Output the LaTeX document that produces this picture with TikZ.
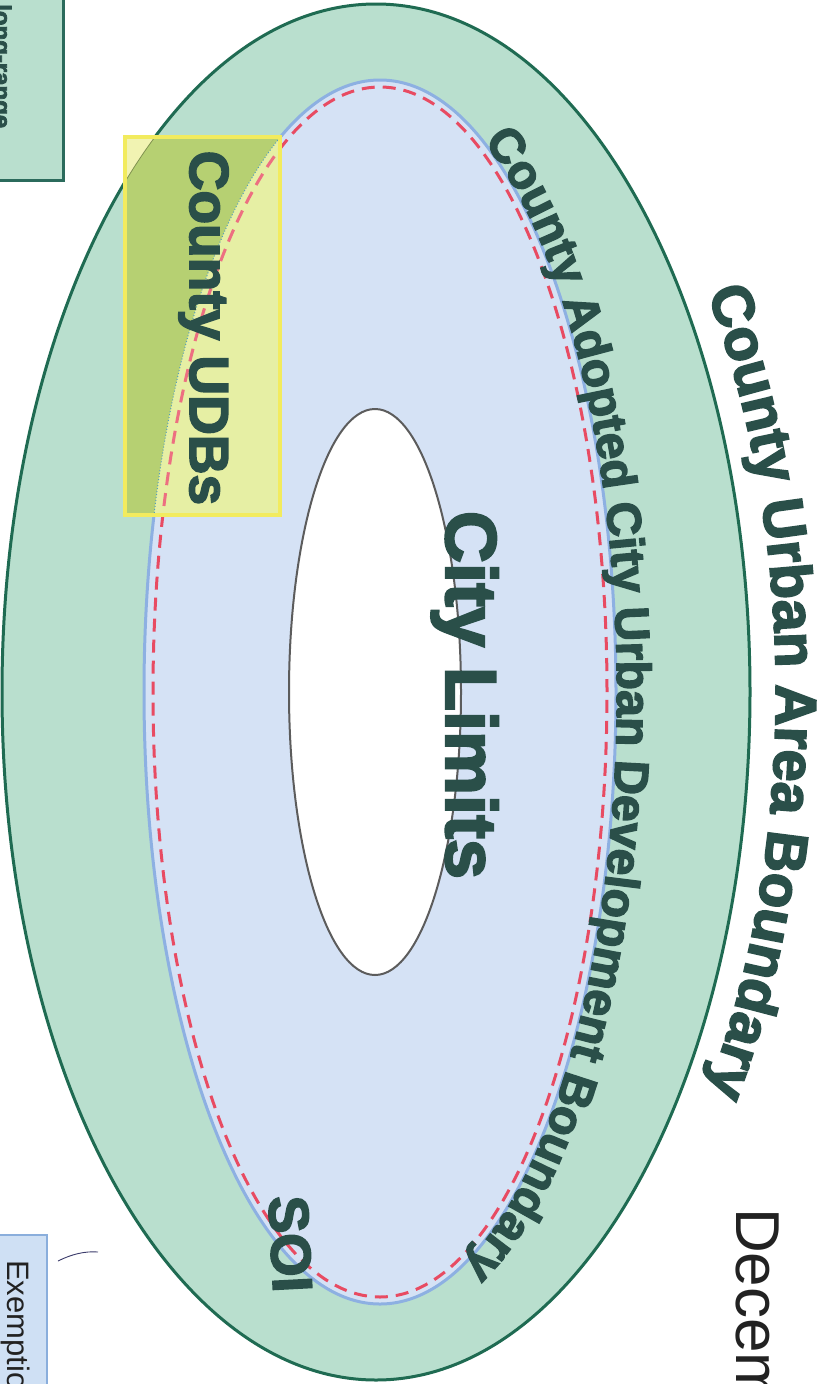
\documentclass[tikz,border=0pt]{standalone}
\usepackage{fontspec}
\setmainfont{Liberation Sans}
\newfontfamily\heavy{Liberation Sans}[BoldFeatures={FakeBold=3}]
\usetikzlibrary{decorations.text}
\definecolor{bandgreen}{HTML}{B9DFCE}
\definecolor{outerline}{HTML}{1F6B52}
\definecolor{soifill}{HTML}{D5E2F5}
\definecolor{soiline}{HTML}{8DB0E2}
\definecolor{reddash}{HTML}{E84B62}
\definecolor{innerline}{HTML}{5C5C5C}
\definecolor{headc}{HTML}{2A4F49}
\definecolor{olive}{HTML}{B6D072}
\definecolor{paleyel}{HTML}{E6EFA4}
\definecolor{outyel}{HTML}{F1F3B2}
\definecolor{boxyel}{HTML}{F2EB5E}
\definecolor{exfill}{HTML}{CFE0F4}
\definecolor{exline}{HTML}{8AAEDC}
\definecolor{lrline}{HTML}{2B6B5C}
\definecolor{penc}{HTML}{3A3A6A}
\definecolor{darktext}{HTML}{222222}
\begin{document}
\begin{tikzpicture}[x=1pt,y=1pt,
  head/.style={font=\heavy\bfseries\fontsize{#1}{#1}\selectfont, text=headc, inner sep=0pt},
  plaintext/.style={font=\fontsize{#1}{#1}\selectfont, text=darktext, inner sep=0pt},
  dashred/.style={draw=reddash, line width=3pt, dash pattern=on 13pt off 8pt}]
\useasboundingbox (0,0) rectangle (817,-1384);
\fill[white] (0,0) rectangle (817,-1384);

% partial side boxes
\draw[fill=bandgreen, draw=lrline, line width=3pt] (-10,10) rectangle (63,-180);
\node[head=24, rotate=-90, anchor=base west] (lr) at (-6,-4) {long-range};
\draw[fill=exfill, draw=exline, line width=2.5pt] (-10,-1235) rectangle (47,-1400);
\node[plaintext=31, rotate=-90, anchor=base west] (ex) at (8,-1260) {Exemption};
\draw[draw=penc, line width=0.9pt] (58,-1261) .. controls (72,-1254) and (85,-1251) .. (98,-1252);

% outer county urban area
\draw[fill=bandgreen, draw=outerline, line width=3pt] (376,-692) ellipse [x radius=374pt, y radius=688pt];
% SOI
\fill[soifill] (380,-692) ellipse [x radius=236pt, y radius=612pt];
\draw[soiline, line width=3pt] (380,-692) ellipse [x radius=236pt, y radius=612pt];
\draw[dashred] (380,-692) ellipse [x radius=227pt, y radius=605pt];
% city limits
\draw[fill=white, draw=innerline, line width=2pt] (375,-692) ellipse [x radius=86pt, y radius=283pt];

% County UDBs box
\begin{scope}
\clip (125,-137) rectangle (280,-515);
\fill[outyel] (125,-137) rectangle (280,-515);
\fill[olive] (376,-692) ellipse [x radius=374pt, y radius=688pt];
\draw[olive!70!black, line width=0.8pt] (376,-692) ellipse [x radius=374pt, y radius=688pt];
\fill[paleyel] (380,-692) ellipse [x radius=236pt, y radius=612pt];
\draw[soiline!60!teal, line width=1pt, dotted] (380,-692) ellipse [x radius=236pt, y radius=612pt];
\draw[dashred, draw=reddash!80!white] (380,-692) ellipse [x radius=227pt, y radius=605pt];
\end{scope}
\draw[boxyel, line width=3.5pt] (125,-137) rectangle (280,-515);

% labels
\node[head=72, rotate=-90, anchor=base] (city) at (446,-695) {City Limits};
\node[head=55, rotate=-90, anchor=base] (udb) at (190,-328) {County UDBs};
\node[head=56, rotate=-87, anchor=base] (soi) at (271,-1245) {SOI};

\path[decorate, decoration={text along path,
   text={|\heavy\bfseries\fontsize{58}{58}\selectfont|County Urban Area Boundary},
   text color=headc, text align=center}]
  (376,-692) ++(40:400pt and 712pt) arc[start angle=40, end angle=-40, x radius=400pt, y radius=712pt];

\path[decorate, decoration={text along path,
   text={|\heavy\bfseries\fontsize{48}{48}\selectfont|County Adopted City Urban Development Boundary},
   text color=headc, text align=center}]
  (380,-692) ++(70:237pt and 612pt) arc[start angle=70, end angle=-76, x radius=237pt, y radius=612pt];

\node[plaintext=62, rotate=-90, anchor=base west] (dec) at (736,-1208) {Decem};
\end{tikzpicture}
\end{document}
